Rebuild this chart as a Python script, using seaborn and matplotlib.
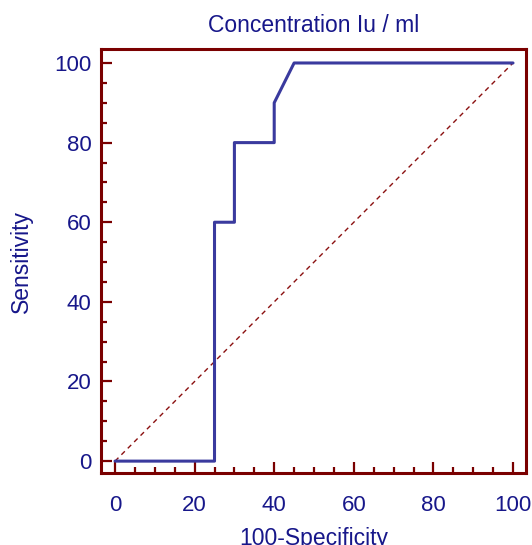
import numpy as np
import pandas as pd
import matplotlib
matplotlib.use("Agg")
import matplotlib.pyplot as plt
from matplotlib.ticker import MultipleLocator
import seaborn as sns

# ROC curve points (100-specificity, sensitivity)
fpr = [0, 25, 25, 30, 30, 40, 40, 45, 100]
tpr = [0, 0, 60, 60, 80, 80, 90, 100, 100]
diag_x = [0, 100]
diag_y = [0, 100]
ticks = [0, 20, 40, 60, 80, 100]

frame_col = "#7a0000"
text_col = "#17178a"
curve_col = "#3a3a9e"

sns.set_theme(style="white")
plt.rcParams["font.family"] = ["Liberation Sans", "DejaVu Sans"]

roc = pd.DataFrame({"fpr": fpr, "tpr": tpr})
diag = pd.DataFrame({"x": diag_x, "y": diag_y})

fig = plt.figure(figsize=(5.32, 5.45), dpi=100)
ax = fig.add_axes([0.190, 0.132, 0.799, 0.778])

sns.lineplot(data=diag, x="x", y="y", ax=ax, color="#8b1010", lw=1.0,
             linestyle=(0, (3.5, 3)), sort=False, estimator=None)
sns.lineplot(data=roc, x="fpr", y="tpr", ax=ax, color=curve_col, lw=2.2,
             sort=False, estimator=None)

ax.set_xlim(-3.5, 103.3)
ax.set_ylim(-3.0, 103.5)
ax.set_xticks(ticks)
ax.set_yticks(ticks)
ax.xaxis.set_minor_locator(MultipleLocator(5))
ax.yaxis.set_minor_locator(MultipleLocator(5))

for s in ax.spines.values():
    s.set_color(frame_col)
    s.set_linewidth(2.2)

ax.tick_params(which="major", direction="in", length=8, width=1.6,
               color=frame_col, labelsize=16, labelcolor=text_col,
               bottom=True, left=True, top=False, right=False)
ax.tick_params(which="minor", direction="in", length=4.5, width=1.6,
               color=frame_col, bottom=True, left=True, top=False, right=False)
ax.tick_params(axis="x", which="major", pad=16)
ax.tick_params(axis="y", which="major", pad=7)

ax.set_xlabel("100-Specificity", fontsize=16.5, color=text_col, labelpad=8)
ax.set_ylabel("Sensitivity", fontsize=16.5, color=text_col, labelpad=15)
ax.set_title("Concentration Iu / ml", fontsize=16.5, color=text_col, pad=12)

fig.savefig("out.png", dpi=100)
